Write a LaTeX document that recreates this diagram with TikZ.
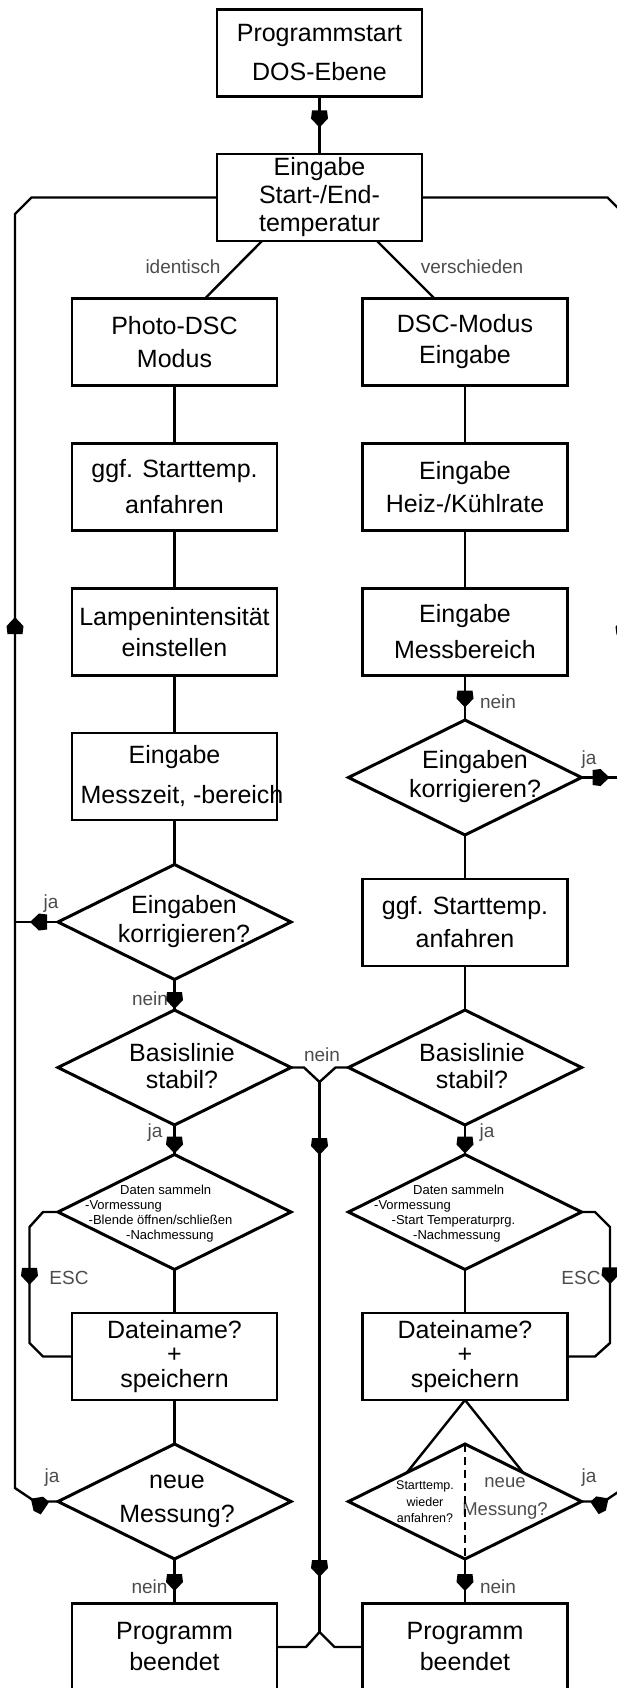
\documentclass[tikz,border=0pt]{standalone}
\usepackage{fontspec}
\setmainfont{Liberation Sans}
\usetikzlibrary{shapes.geometric, calc, decorations.markings}

% filled arrow head placed somewhere on a connector
\newcommand{\tipshape}{\fill (-17pt,-7.5pt) -- (-9pt,-8.5pt) -- (0pt,0pt) -- (-9pt,8.5pt) -- (-17pt,7.5pt) -- cycle;}

\begin{document}
\begin{tikzpicture}[x=1pt, y=1pt,
  box/.style={draw, rectangle, line width=2.4pt, minimum width=205pt, minimum height=87pt, inner sep=0pt, outer sep=0pt, align=center, font=\fontsize{25}{33}\selectfont},
  dia/.style={draw, diamond, line width=3pt, minimum width=233pt, minimum height=115pt, inner sep=0pt, outer sep=0pt},
  dtext/.style={align=center, inner sep=0pt, font=\fontsize{25}{29}\selectfont},
  small/.style={align=left, inner sep=0pt, font=\fontsize{13}{15}\selectfont},
  lbl/.style={text=black!70, inner sep=0pt, font=\fontsize{19}{19}\selectfont},
  line/.style={line width=2.4pt},
  tipat/.style={postaction={decorate, decoration={markings, mark=at position #1 with {\tipshape}}}}
]
\useasboundingbox (0,0) rectangle (617,-1688);
\clip (0,0) rectangle (617,-1688);

% top
\node[box, font=\fontsize{25}{39}\selectfont] (start) at (319.5,-53) {Programmstart\\DOS-Ebene};
\node[box, font=\fontsize{25}{28}\selectfont] (inp) at (319.5,-197.5) {Eingabe\\Start-/End-\\temperatur};

% Photo-DSC side
\node[box] (pdsc) at (174.5,-342) {Photo-DSC\\Modus};
\node[box, font=\fontsize{25}{36}\selectfont] (lstart) at (174.5,-487) {ggf. Starttemp.\\anfahren};
\node[box, font=\fontsize{25}{31}\selectfont] (lamp) at (174.5,-632) {Lampenintensität\\einstellen};
\node[box, font=\fontsize{25}{40}\selectfont] (lmess) at (174.5,-776.5) {Eingabe\\\makebox[0pt]{\hspace*{15pt}Messzeit, -bereich}};
\node[dia] (lkorr) at (174.5,-922) {};
\node[dtext] (lkorr-t) at (184,-922) {Eingaben\\korrigieren?};
\node[dia] (lbasis) at (174.5,-1067.5) {};
\node[dtext, font=\fontsize{25}{27}\selectfont] (lbasis-t) at (182,-1066) {Basislinie\\stabil?};
\node[dia] (ldaten) at (174.5,-1212) {};
\node[small, anchor=north west] (ldaten-t) at (85,-1185) {\hspace*{35pt}Daten sammeln\\-Vormessung\\\hspace*{3.5pt}-Blende öffnen/schließen\\\hspace*{41pt}-Nachmessung};
\node[box, font=\fontsize{25}{24.5}\selectfont] (ldatei) at (174.5,-1356.5) {Dateiname?\\+\\speichern};
\node[dia] (lneu) at (174.5,-1501.5) {};
\node[dtext, font=\fontsize{25}{34}\selectfont] (lneu-t) at (177,-1501) {neue\\Messung?};
\node[box, font=\fontsize{25}{31}\selectfont] (lend) at (174.5,-1647) {Programm\\beendet};

% DSC side
\node[box, font=\fontsize{25}{31}\selectfont] (dsc) at (465,-342) {DSC-Modus\\Eingabe};
\node[box] (heiz) at (465,-487) {Eingabe\\Heiz-/Kühlrate};
\node[box, font=\fontsize{25}{36}\selectfont] (rmess) at (465,-632) {Eingabe\\Messbereich};
\node[dia] (rkorr) at (465,-777.5) {};
\node[dtext] (rkorr-t) at (475,-777) {Eingaben\\korrigieren?};
\node[box] (rstart) at (465,-922.5) {ggf. Starttemp.\\anfahren};
\node[dia] (rbasis) at (465,-1067.5) {};
\node[dtext, font=\fontsize{25}{27}\selectfont] (rbasis-t) at (472,-1066) {Basislinie\\stabil?};
\node[dia] (rdaten) at (465,-1212) {};
\node[small, anchor=north west] (rdaten-t) at (374,-1185) {\hspace*{39pt}Daten sammeln\\-Vormessung\\\hspace*{17.5pt}-Start Temperaturprg.\\\hspace*{39pt}-Nachmessung};
\node[box, font=\fontsize{25}{24.5}\selectfont] (rdatei) at (465,-1356.5) {Dateiname?\\+\\speichern};
\node[dia] (rneu) at (465,-1501.5) {};
\node[align=center, inner sep=0pt, font=\fontsize{12.5}{16.5}\selectfont] (rneu-a) at (425,-1502) {Starttemp.\\wieder\\anfahren?};
\node[lbl, align=center, font=\fontsize{18.5}{28}\selectfont] (rneu-b) at (505,-1498) {neue\\Messung?};
\node[box, font=\fontsize{25}{31}\selectfont] (rend) at (465,-1647) {Programm\\beendet};

% main flow
\draw[line, tipat=31pt] (start) -- (inp);
\draw[line] ($(inp.south west)+(45,0)$) -- ($(pdsc.north west)+(133,0)$);
\draw[line] ($(inp.south east)+(-45,0)$) -- ($(dsc.north east)+(-133,0)$);
\node[lbl] (l-ident) at (183,-267) {identisch};
\node[lbl] (l-versch) at (472,-267) {verschieden};

\draw[line] (pdsc) -- (lstart);
\draw[line] (lstart) -- (lamp);
\draw[line] (lamp) -- (lmess);
\draw[line] (lmess) -- (lkorr);
\draw[line, tipat=-1pt] (lkorr) -- (lbasis);
\draw[line, tipat=-1pt] (lbasis) -- (ldaten);
\draw[line] (ldaten) -- (ldatei);
\draw[line] (ldatei) -- (lneu);
\draw[line, tipat=0.72] (lneu) -- (lend);

\draw[line] (dsc) -- (heiz);
\draw[line] (heiz) -- (rmess);
\draw[line, tipat=0.72] (rmess) -- (rkorr);
\draw[line] (rkorr) -- (rstart);
\draw[line] (rstart) -- (rbasis);
\draw[line, tipat=-1pt] (rbasis) -- (rdaten);
\draw[line] (rdaten) -- (rdatei);
\draw[line] (rdatei.south) -- ($(rneu.north)!0.5!(rneu.west)$);
\draw[line] (rdatei.south) -- ($(rneu.north)!0.5!(rneu.east)$);
\draw[line, dash pattern=on 8pt off 5pt] (rneu.north) -- (rneu.south);
\draw[line, tipat=0.72] (rneu) -- (rend);

% nein in the middle
\coordinate (vtop) at (319.5,-1082);
\coordinate (vbot) at (319.5,-1632);
\draw[line] (lbasis.east) -- ++(13,0) -- (vtop) -- ($(rbasis.west)+(-13,0)$) -- (rbasis.west);
\draw[line, tipat=73pt, tipat=495pt] (vtop) -- (vbot);
\draw[line] (lend.east) -- ++(29,0) -- (vbot) -- ($(rend.west)+(-28,0)$) -- (rend.west);

% return loops
\draw[line, tipat=28pt, tipat=918pt] (lneu.west) -- (35,-1501.5) -- (15,-1488) -- (15,-214) -- (31.5,-197.5) -- (inp.west);
\draw[line, tipat=28pt] (lkorr.west) -- (15,-922);
\draw[line, tipat=28pt, tipat=917pt] (rneu.east) -- (604,-1501.5) -- (624,-1488) -- (624,-214) -- (607.5,-197.5) -- (inp.east);
\draw[line, tipat=28pt] (rkorr.east) -- (624,-777.5);

% ESC loops
\draw[line, tipat=93pt] (ldaten.west) -- (43,-1212) -- (29.5,-1227) -- (29.5,-1343) -- (43,-1356.5) -- (ldatei.west);
\draw[line, tipat=92pt] (rdaten.east) -- (595,-1212) -- (610,-1227) -- (610,-1343) -- (595,-1356.5) -- (rdatei.east);

% labels
\node[lbl] (l-nein1) at (498,-702) {nein};
\node[lbl] (l-ja1) at (589,-760) {ja};
\node[lbl] (l-ja2) at (51,-904) {ja};
\node[lbl] (l-nein2) at (150,-999) {nein};
\node[lbl] (l-nein3) at (322,-1055) {nein};
\node[lbl] (l-ja3) at (155,-1133) {ja};
\node[lbl] (l-ja4) at (487,-1133) {ja};
\node[lbl] (l-esc1) at (69,-1278) {ESC};
\node[lbl] (l-esc2) at (581,-1278) {ESC};
\node[lbl] (l-ja5) at (52,-1478) {ja};
\node[lbl] (l-ja6) at (589,-1478) {ja};
\node[lbl] (l-nein4) at (149.5,-1587) {nein};
\node[lbl] (l-nein5) at (498,-1587) {nein};
\end{tikzpicture}
\end{document}
